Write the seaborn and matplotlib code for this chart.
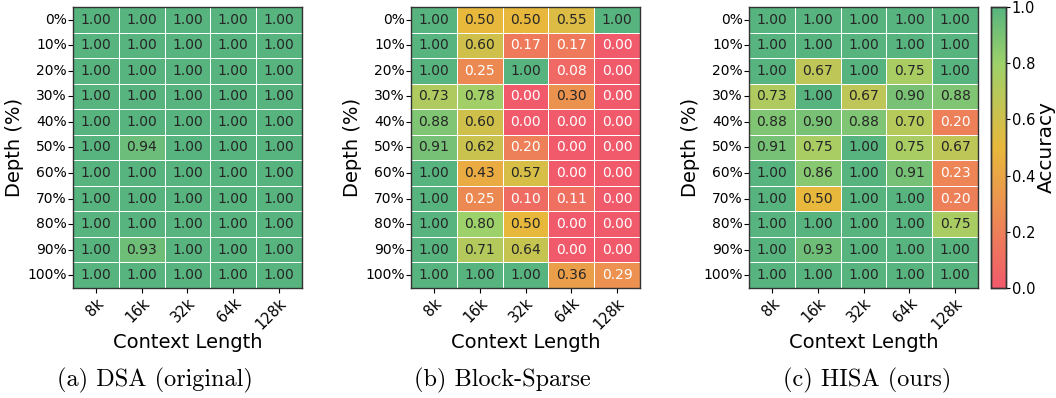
import matplotlib
matplotlib.use('Agg')
import matplotlib.pyplot as plt
import numpy as np
import pandas as pd
import seaborn as sns
from matplotlib.colors import LinearSegmentedColormap

depths = ['0%', '10%', '20%', '30%', '40%', '50%', '60%', '70%', '80%', '90%', '100%']
contexts = ['8k', '16k', '32k', '64k', '128k']

dsa = [
    [1.00, 1.00, 1.00, 1.00, 1.00],
    [1.00, 1.00, 1.00, 1.00, 1.00],
    [1.00, 1.00, 1.00, 1.00, 1.00],
    [1.00, 1.00, 1.00, 1.00, 1.00],
    [1.00, 1.00, 1.00, 1.00, 1.00],
    [1.00, 0.94, 1.00, 1.00, 1.00],
    [1.00, 1.00, 1.00, 1.00, 1.00],
    [1.00, 1.00, 1.00, 1.00, 1.00],
    [1.00, 1.00, 1.00, 1.00, 1.00],
    [1.00, 0.93, 1.00, 1.00, 1.00],
    [1.00, 1.00, 1.00, 1.00, 1.00],
]
block_sparse = [
    [1.00, 0.50, 0.50, 0.55, 1.00],
    [1.00, 0.60, 0.17, 0.17, 0.00],
    [1.00, 0.25, 1.00, 0.08, 0.00],
    [0.73, 0.78, 0.00, 0.30, 0.00],
    [0.88, 0.60, 0.00, 0.00, 0.00],
    [0.91, 0.62, 0.20, 0.00, 0.00],
    [1.00, 0.43, 0.57, 0.00, 0.00],
    [1.00, 0.25, 0.10, 0.11, 0.00],
    [1.00, 0.80, 0.50, 0.00, 0.00],
    [1.00, 0.71, 0.64, 0.00, 0.00],
    [1.00, 1.00, 1.00, 0.36, 0.29],
]
hisa = [
    [1.00, 1.00, 1.00, 1.00, 1.00],
    [1.00, 1.00, 1.00, 1.00, 1.00],
    [1.00, 0.67, 1.00, 0.75, 1.00],
    [0.73, 1.00, 0.67, 0.90, 0.88],
    [0.88, 0.90, 0.88, 0.70, 0.20],
    [0.91, 0.75, 1.00, 0.75, 0.67],
    [1.00, 0.86, 1.00, 0.91, 0.23],
    [1.00, 0.50, 1.00, 1.00, 0.20],
    [1.00, 1.00, 1.00, 1.00, 0.75],
    [1.00, 0.93, 1.00, 1.00, 1.00],
    [1.00, 1.00, 1.00, 1.00, 1.00],
]
captions = ['(a) DSA (original)', '(b) Block-Sparse', '(c) HISA (ours)']

cmap = LinearSegmentedColormap.from_list(
    'acc', [(0.0, '#F15A6B'), (0.5, '#E8B83C'), (0.8, '#9DD16A'), (1.0, '#57B47F')])

fig = plt.figure(figsize=(10.56, 3.98), dpi=100)
lefts = [0.0691, 0.3892, 0.7093]
cap_x = [0.147, 0.476, 0.821]   # captions sit under each subfigure, not the heatmap
cax = fig.add_axes([0.9384, 0.2764, 0.0142, 0.706])

for i, (vals, cap) in enumerate(zip([dsa, block_sparse, hisa], captions)):
    ax = fig.add_axes([lefts[i], 0.2764, 0.2169, 0.706])
    df = pd.DataFrame(vals, index=depths, columns=contexts)
    last = (i == 2)
    sns.heatmap(df, ax=ax, cmap=cmap, vmin=0, vmax=1, annot=True, fmt='.2f',
                annot_kws={'fontsize': 10}, linewidths=0.7, linecolor='white',
                cbar=last, cbar_ax=cax if last else None,
                cbar_kws={'ticks': [0, 0.2, 0.4, 0.6, 0.8, 1.0]})
    # text colour: white on the red/orange cells
    for t in ax.texts:
        v = float(t.get_text())
        t.set_color('white' if v < 0.3 else '#262626')
    for s in ax.spines.values():
        s.set_visible(True)
        s.set_color('#333333')
        s.set_linewidth(1)
    ax.set_yticklabels(depths, rotation=0, fontsize=10)
    ax.set_xticklabels(contexts, rotation=45, ha='right', rotation_mode='anchor', fontsize=10.5)
    ax.set_ylabel('Depth (%)', fontsize=14, labelpad=2)
    ax.set_xlabel('Context Length', fontsize=14, labelpad=1)
    ax.tick_params(axis='y', length=3.5, width=0.8, pad=1)
    ax.tick_params(axis='x', length=3.5, width=0.8, pad=2)
    fig.text(cap_x[i], 0.045, cap, ha='center', va='center',
             fontsize=17.5, family='cmr10')

cax.set_ylabel('Accuracy', fontsize=14.5, labelpad=1)
cax.tick_params(labelsize=10.5, pad=1, length=3)
for s in cax.spines.values():
    s.set_visible(True)
    s.set_color('#333333')
    s.set_linewidth(1)

fig.savefig('out.png', dpi=100)
